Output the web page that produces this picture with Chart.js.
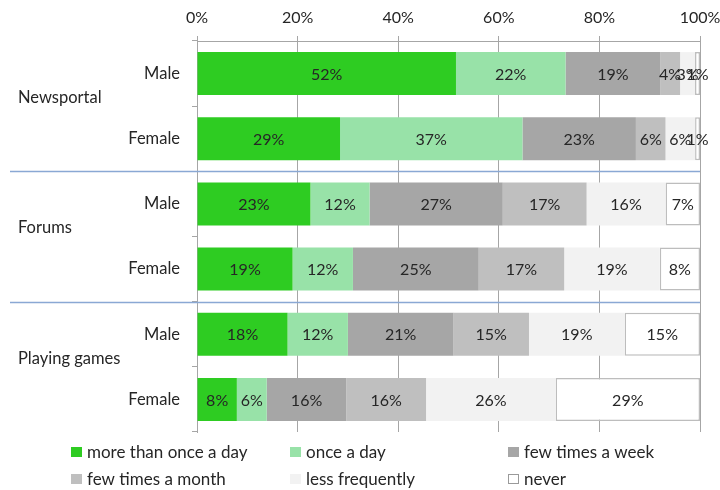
<!DOCTYPE html>
<html>
<head>
<meta charset="utf-8">
<script src="https://cdn.jsdelivr.net/npm/chart.js@4.4.0/dist/chart.umd.min.js"></script>
<style>
html, body { margin: 0; padding: 0; background: #fff; }
</style>
</head>
<body>
<canvas id="usage-chart" width="720" height="490"></canvas>
<script>
var groups = ["Newsportal", "Forums", "Playing games"];
var rowLabels = ["Male", "Female", "Male", "Female", "Male", "Female"];
var frequencies = ["more than once a day", "once a day", "few times a week", "few times a month", "less frequently", "never"];
var colors = ["#2ECC22", "#98E2A8", "#A6A6A6", "#BFBFBF", "#F2F2F2", "#FFFFFF"];
var xTicks = [0, 20, 40, 60, 80, 100];

// one entry per bar: Newsportal M/F, Forums M/F, Playing games M/F
var moreThanOnce = [52, 29, 23, 19, 18, 8];
var onceADay = [22, 37, 12, 12, 12, 6];
var fewWeek = [19, 23, 27, 25, 21, 16];
var fewMonth = [4, 6, 17, 17, 15, 16];
var lessOften = [3, 6, 16, 19, 19, 26];
var never = [1, 1, 7, 8, 15, 29];

var series = [moreThanOnce, onceADay, fewWeek, fewMonth, lessOften, never];
var FONT = "Lato, 'Open Sans', sans-serif";

// bars are drawn as shares of each row total (100% stacked)
var totals = rowLabels.map(function(l, i){
    var t = 0;
    series.forEach(function(s){ t += s[i]; });
    return t;
});

var datasets = series.map(function(s, k){
    return {
        label: frequencies[k],
        data: s.map(function(v, i){ return v * 100 / totals[i]; }),
        raw: s,
        backgroundColor: colors[k],
        borderColor: k == 5 ? "#BDBDBD" : colors[k],
        borderWidth: k == 5 ? 1.5 : 0,
        borderSkipped: false,
        categoryPercentage: 1,
        barPercentage: 0.66
    };
});

var barLabels = {
    id: "barLabels",
    afterDatasetsDraw: function(chart){
        var ctx = chart.ctx;
        ctx.save();
        ctx.font = "16px " + FONT;
        ctx.fillStyle = "#262626";
        ctx.textAlign = "center";
        ctx.textBaseline = "middle";
        chart.data.datasets.forEach(function(ds, k){
            chart.getDatasetMeta(k).data.forEach(function(bar, i){
                ctx.fillText(ds.raw[i] + "%", (bar.x + bar.base) / 2, bar.y + 1);
            });
        });
        ctx.restore();
    }
};

var groupAxis = {
    id: "groupAxis",
    afterDraw: function(chart){
        var ctx = chart.ctx;
        var y = chart.scales.y;
        var step = y.getPixelForValue(1) - y.getPixelForValue(0);
        ctx.save();
        ctx.font = "16.5px " + FONT;
        ctx.fillStyle = "#262626";
        ctx.textBaseline = "middle";
        groups.forEach(function(g, i){
            ctx.fillText(g, 18, y.getPixelForValue(i * 2) + step * 0.37);
        });
        // separators between the groups
        ctx.strokeStyle = "#8AA8D4";
        ctx.lineWidth = 1.3;
        for (var i = 1; i < groups.length; i++){
            var yy = Math.round(y.getPixelForValue(i * 2) - step / 2) + 0.5;
            ctx.beginPath();
            ctx.moveTo(10, yy);
            ctx.lineTo(chart.chartArea.right, yy);
            ctx.stroke();
        }
        ctx.restore();
    }
};

var legendGrid = {
    id: "legendGrid",
    afterDraw: function(chart){
        var ctx = chart.ctx;
        var cols = [71, 290, 508];
        var rows = [452, 479];
        ctx.save();
        ctx.font = "17px " + FONT;
        ctx.textBaseline = "middle";
        chart.data.datasets.forEach(function(ds, k){
            var x = cols[k % 3];
            var y = rows[Math.floor(k / 3)];
            ctx.fillStyle = ds.backgroundColor;
            ctx.fillRect(x, y - 5, 11, 10);
            if (k == 5){
                ctx.strokeStyle = "#9A9A9A";
                ctx.lineWidth = 1;
                ctx.strokeRect(x + 0.5, y - 4.5, 10, 9);
            }
            ctx.fillStyle = "#262626";
            ctx.fillText(ds.label, x + 16, y + 1);
        });
        ctx.restore();
    }
};

new Chart(document.getElementById("usage-chart"), {
    type: "bar",
    data: { labels: rowLabels, datasets: datasets },
    plugins: [barLabels, groupAxis, legendGrid],
    options: {
        indexAxis: "y",
        responsive: false,
        animation: false,
        layout: { padding: { top: 0, right: 0, bottom: 58, left: 0 } },
        plugins: { legend: { display: false }, tooltip: { enabled: false } },
        scales: {
            x: {
                position: "top",
                stacked: true,
                min: 0,
                max: 100,
                afterBuildTicks: function(scale){
                    scale.ticks = xTicks.map(function(v){ return { value: v }; });
                },
                afterFit: function(scale){
                    scale.height = 41;
                    scale.paddingLeft = 0;
                    scale.paddingRight = 20;
                },
                ticks: {
                    padding: 9,
                    color: "#262626",
                    font: { family: FONT, size: 16 },
                    callback: function(v){ return v + "%"; }
                },
                grid: { color: "#A6A6A6", lineWidth: 1, tickLength: 5 },
                border: { color: "#A6A6A6" }
            },
            y: {
                stacked: true,
                afterFit: function(scale){ scale.width = 197; },
                ticks: {
                    padding: 12,
                    color: "#262626",
                    font: { family: FONT, size: 16.5 }
                },
                grid: { drawOnChartArea: false, color: "#A6A6A6", tickLength: 5, offset: true },
                border: { color: "#A6A6A6" }
            }
        }
    }
});
</script>
</body>
</html>
